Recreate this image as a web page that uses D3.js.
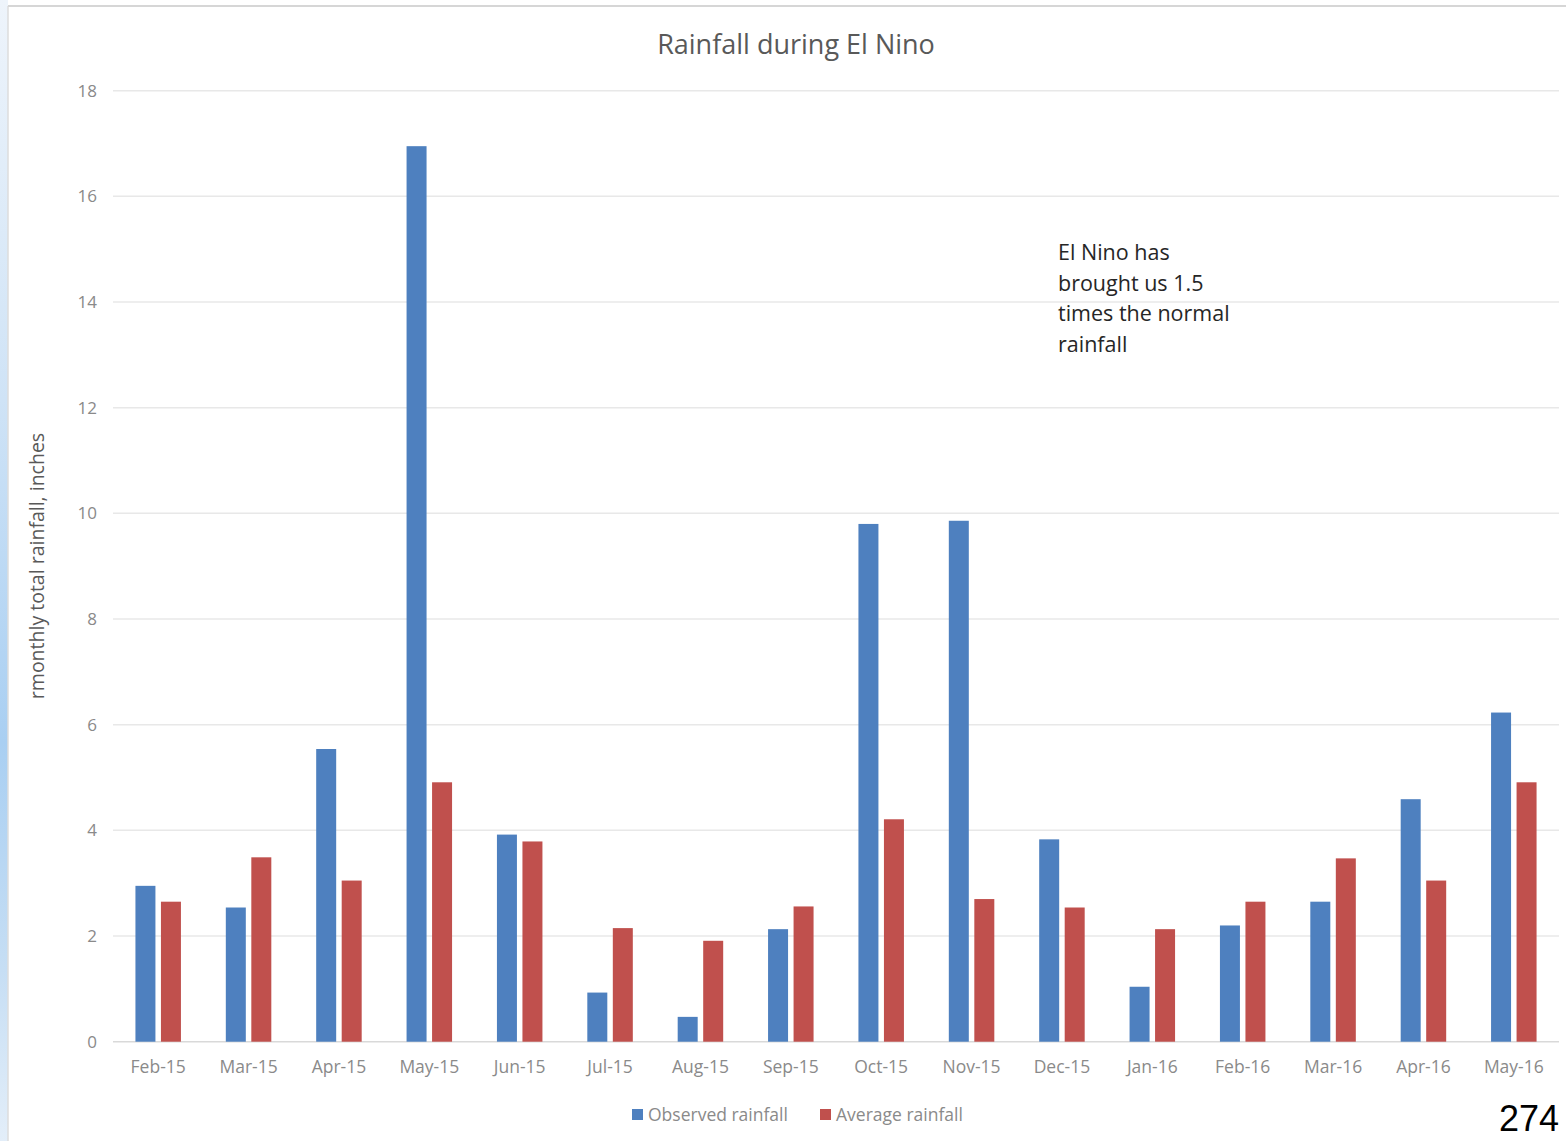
<!DOCTYPE html>
<html>
<head>
<meta charset="utf-8">
<script src="https://cdn.jsdelivr.net/npm/d3@7"></script>
<style>
  html, body { margin: 0; padding: 0; background: #ffffff; }
  svg { display: block; }
</style>
</head>
<body>
<svg id="chart" width="1566" height="1141"></svg>
<script>
// Monthly rainfall, inches
const months = ["Feb-15","Mar-15","Apr-15","May-15","Jun-15","Jul-15","Aug-15","Sep-15",
                "Oct-15","Nov-15","Dec-15","Jan-16","Feb-16","Mar-16","Apr-16","May-16"];
const observed = [2.95, 2.54, 5.54, 16.95, 3.92, 0.93, 0.47, 2.13, 9.80, 9.86, 3.83, 1.04, 2.20, 2.65, 4.59, 6.23];
const average  = [2.65, 3.49, 3.05, 4.91, 3.79, 2.15, 1.91, 2.56, 4.21, 2.70, 2.54, 2.13, 2.65, 3.47, 3.05, 4.91];
const seriesNames = ["Observed rainfall", "Average rainfall"];
const seriesColors = ["#4e80bf", "#c0504d"];
const yTicks = [0, 2, 4, 6, 8, 10, 12, 14, 16, 18];
const noteLines = ["El Nino has", "brought us 1.5", "times the normal", "rainfall"];

const svg = d3.select("#chart");
const W = 1566, H = 1141;
const font = "'Open Sans', 'Liberation Sans', sans-serif";

// Slide frame: pale blue strip on the left edge and a thin grey border
const defs = svg.append("defs");
const grad = defs.append("linearGradient").attr("id", "edge").attr("x1", 0).attr("y1", 0).attr("x2", 0).attr("y2", 1);
[[0, "#eef4fb"], [0.35, "#cfe3f6"], [0.65, "#a9cff2"], [0.85, "#c6def4"], [1, "#e3eef9"]]
  .forEach(([o, c]) => grad.append("stop").attr("offset", o).attr("stop-color", c));
svg.append("rect").attr("x", 0).attr("y", 0).attr("width", 8).attr("height", H).attr("fill", "url(#edge)");
svg.append("line").attr("x1", 8).attr("x2", 8).attr("y1", 6).attr("y2", H).attr("stroke", "#dcdcdc").attr("stroke-width", 1.5);
svg.append("line").attr("x1", 8).attr("x2", W).attr("y1", 6).attr("y2", 6).attr("stroke", "#d6d6d6").attr("stroke-width", 2);

// Scales
const plot = { left: 113, right: 1559, top: 90.7, bottom: 1041.7 };
const y = d3.scaleLinear().domain([0, 18]).range([plot.bottom, plot.top]);
const x0 = d3.scaleBand().domain(months).range([plot.left, plot.right]).paddingInner(0).paddingOuter(0);
const groupW = 45.5;
const x1 = d3.scaleBand().domain(seriesNames)
  .range([(x0.bandwidth() - groupW) / 2, (x0.bandwidth() + groupW) / 2])
  .paddingInner(0.216);

// Gridlines
svg.append("g").selectAll("line").data(yTicks).join("line")
  .attr("x1", plot.left).attr("x2", plot.right)
  .attr("y1", d => y(d)).attr("y2", d => y(d))
  .attr("stroke", d => d === 0 ? "#d9d9d9" : "#e8e8e8")
  .attr("stroke-width", 1.5);

// Y axis labels
const yAxis = d3.axisLeft(y).tickValues(yTicks).tickSize(0).tickPadding(0);
svg.append("g").attr("transform", `translate(97,0)`).call(yAxis)
  .call(g => g.select(".domain").remove())
  .call(g => g.selectAll("text").attr("fill", "#8a8a8a").attr("font-family", font).attr("font-size", 17));

// X axis labels
const xAxis = d3.axisBottom(x0).tickSize(0).tickPadding(0);
svg.append("g").attr("transform", `translate(0,1061)`).call(xAxis)
  .call(g => g.select(".domain").remove())
  .call(g => g.selectAll("text").attr("fill", "#8a8a8a").attr("font-family", font).attr("font-size", 17.5));

// Bars
const rows = months.map((m, i) => ({ month: m, values: [observed[i], average[i]] }));
const groups = svg.append("g").selectAll("g").data(rows).join("g")
  .attr("transform", d => `translate(${x0(d.month)},0)`);
groups.selectAll("rect")
  .data(d => d.values.map((v, k) => ({ name: seriesNames[k], value: v, color: seriesColors[k] })))
  .join("rect")
  .attr("x", d => x1(d.name))
  .attr("width", x1.bandwidth())
  .attr("y", d => y(d.value))
  .attr("height", d => y(0) - y(d.value))
  .attr("fill", d => d.color);

// Title
svg.append("text").attr("x", 796).attr("y", 54).attr("text-anchor", "middle")
  .attr("font-family", font).attr("font-size", 27).attr("fill", "#595959")
  .text("Rainfall during El Nino");

// Y axis title
svg.append("text")
  .attr("transform", "translate(44,566) rotate(-90)")
  .attr("text-anchor", "middle")
  .attr("font-family", font).attr("font-size", 19.5).attr("fill", "#595959")
  .text("rmonthly total rainfall, inches");

// Annotation
svg.append("text").attr("font-family", font).attr("font-size", 21.5).attr("fill", "#262626")
  .selectAll("tspan").data(noteLines).join("tspan")
  .attr("x", 1058).attr("y", (d, i) => 260 + i * 30.5)
  .text(d => d);

// Legend
const legend = svg.append("g").attr("font-family", font).attr("font-size", 17.5).attr("fill", "#8a8a8a");
const legendX = [632, 820];
seriesNames.forEach((n, k) => {
  legend.append("rect").attr("x", legendX[k]).attr("y", 1109).attr("width", 11).attr("height", 11).attr("fill", seriesColors[k]);
  legend.append("text").attr("x", legendX[k] + 16).attr("y", 1121).text(n);
});

// Page number
svg.append("text").attr("x", 1559).attr("y", 1131).attr("text-anchor", "end")
  .attr("font-family", "'Liberation Sans', Arial, sans-serif").attr("font-size", 36).attr("fill", "#000")
  .text("274");
</script>
</body>
</html>
